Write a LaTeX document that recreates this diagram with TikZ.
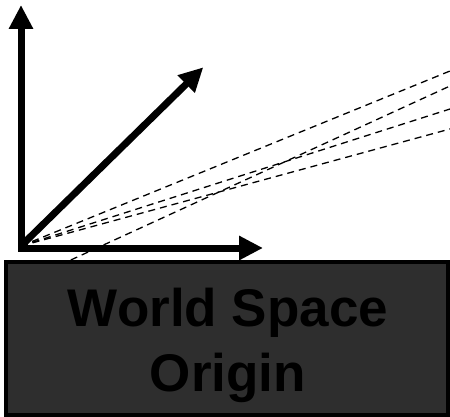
\documentclass[tikz,border=0pt]{standalone}
\usepackage{fontspec}
\setmainfont{Liberation Sans}
\usetikzlibrary{arrows.meta}
\definecolor{boxgray}{RGB}{46,46,46}
\tikzset{
  axisarrow/.style={line width=7pt,-{Triangle[length=24pt,width=23pt]}},
  ray/.style={line width=1.3pt,dash pattern=on 7pt off 5pt},
  basebox/.style={draw=black,line width=4.3pt,fill=boxgray},
  boxtext/.style={font=\fontsize{53}{65}\selectfont\bfseries,text=black,anchor=base,inner sep=0pt}
}
\begin{document}
\begin{tikzpicture}[x=1pt,y=-1pt]
\useasboundingbox (0,0) rectangle (450,417);
\coordinate (O) at (21,246);
\coordinate (Ocorner) at (18,248);
\coordinate (Xt) at (263,248);
\coordinate (Yt) at (21,5);
\coordinate (Dt) at (203.3,67.3);
\coordinate (R1) at (450,71);
\coordinate (R2) at (450,86);
\coordinate (R3) at (450,109);
\coordinate (R4) at (450,129);
\coordinate (S2) at (49,270);
\coordinate (Ybase) at (21,249);
% rays
\draw[ray] (O) -- (R1);
\draw[ray] (S2) -- (R2);
\draw[ray] (O) -- (R3);
\draw[ray] (O) -- (R4);
% axes
\draw[axisarrow] (Ybase) -- (Yt);
\draw[axisarrow] (Ocorner) -- (Xt);
\draw[axisarrow] (O) -- (Dt);
% box
\draw[basebox] (6.2,262) rectangle (447.8,415);
\node[boxtext] (t1) at (228,326.7) {World Space};
\node[boxtext] (t2) at (228,391.7) {Origin};
\end{tikzpicture}
\end{document}
